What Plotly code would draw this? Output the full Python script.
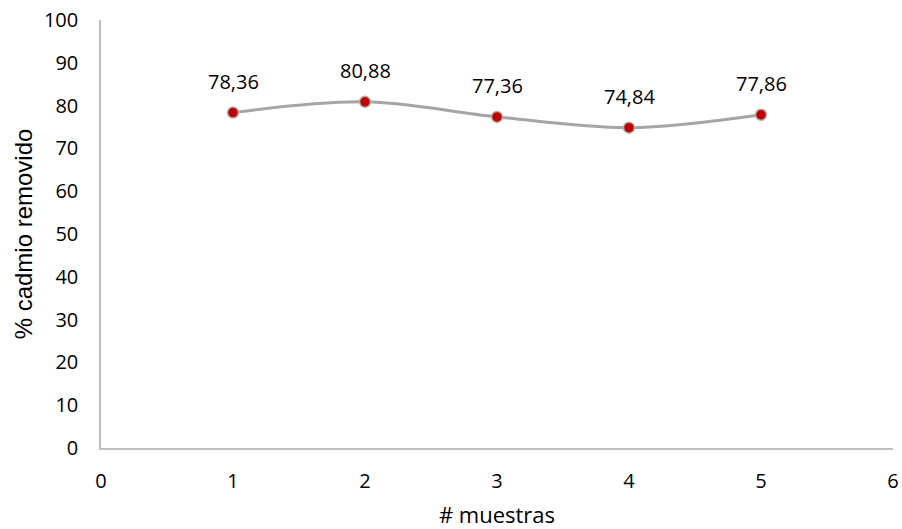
import plotly.graph_objects as go

muestras = [1, 2, 3, 4, 5]
cadmio_removido = [78.36, 80.88, 77.36, 74.84, 77.86]
etiquetas = [f"{v:.2f}".replace(".", ",") for v in cadmio_removido]

FONT = "Open Sans, Noto Sans, sans-serif"

fig = go.Figure()
fig.add_trace(go.Scatter(
    x=muestras, y=cadmio_removido,
    mode="lines+markers",
    line=dict(color="#A5A5A5", width=3, shape="spline", smoothing=1.0),
    marker=dict(color="#C00000", size=11, line=dict(color="#B0B0B0", width=1.5)),
    showlegend=False,
    hoverinfo="skip",
))

for x, y, t in zip(muestras, cadmio_removido, etiquetas):
    fig.add_annotation(x=x, y=y, text=t, showarrow=False, yshift=31,
                       font=dict(family=FONT, size=20, color="#000000"))

fig.update_layout(
    width=902, height=529,
    margin=dict(l=101, r=9, t=20, b=81),
    paper_bgcolor="white", plot_bgcolor="white",
    font=dict(family=FONT, size=20, color="#000000"),
    xaxis=dict(
        range=[0, 6], tickmode="linear", tick0=0, dtick=1,
        showgrid=False, zeroline=False, automargin=False,
        showline=True, linecolor="#BFBFBF", linewidth=1.5,
        ticks="", ticklen=0, ticklabelstandoff=14,
        tickfont=dict(size=20),
        title=dict(text="# muestras", font=dict(size=22), standoff=17),
    ),
    yaxis=dict(
        range=[0, 100], tickmode="linear", tick0=0, dtick=10,
        showgrid=False, zeroline=False, automargin=False,
        showline=True, linecolor="#BFBFBF", linewidth=1.5,
        ticks="", ticklen=0, ticklabelstandoff=17,
        tickfont=dict(size=20),
        title=dict(text="% cadmio removido",
                   font=dict(family="Liberation Sans, Arial, sans-serif", size=24),
                   standoff=5),
    ),
)

fig.write_html("out.html")
